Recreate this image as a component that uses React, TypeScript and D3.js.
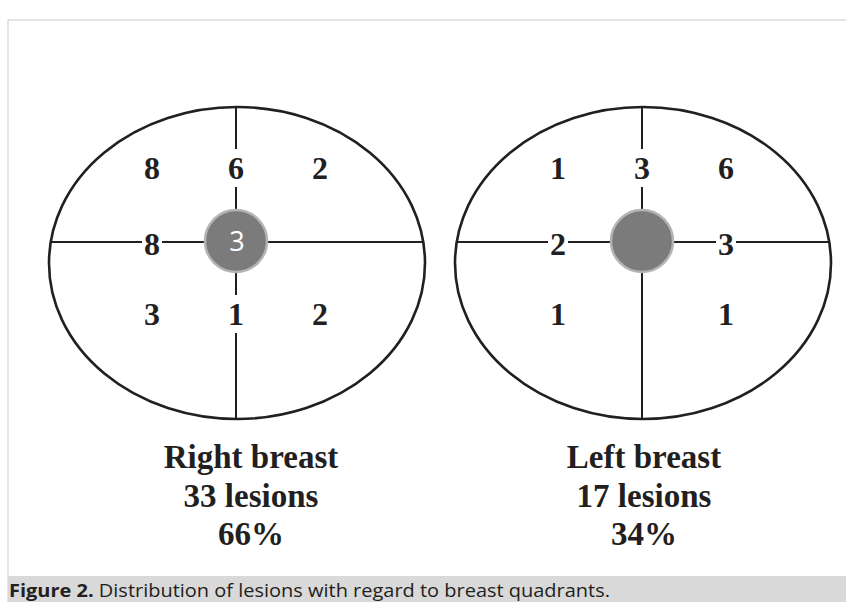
import React from "react";
import * as d3 from "d3";

// ---- data ----
const breasts = ["Right breast", "Left breast"];
const lesionCounts = [33, 17];
const percentages = ["66%", "34%"];
// slots around the quadrant cross
const slotNames = ["upperOuterLeft", "upperAxis", "upperOuterRight", "leftAxis", "rightAxis", "lowerOuterLeft", "lowerAxis", "lowerOuterRight"];
const rightBreastCounts = [8, 6, 2, 8, null, 3, 1, 2];
const leftBreastCounts = [1, 3, 6, 2, 3, 1, null, 1];
const centerCounts = [3, null];
const caption = "Distribution of lesions with regard to breast quadrants.";

const W = 846;
const H = 602;

const slotCol: Record<string, string> = {
  upperOuterLeft: "L", upperAxis: "C", upperOuterRight: "R",
  leftAxis: "L", rightAxis: "R",
  lowerOuterLeft: "L", lowerAxis: "C", lowerOuterRight: "R",
};
const slotRow: Record<string, string> = {
  upperOuterLeft: "U", upperAxis: "U", upperOuterRight: "U",
  leftAxis: "M", rightAxis: "M",
  lowerOuterLeft: "D", lowerAxis: "D", lowerOuterRight: "D",
};
const onLine = (s: string) => slotCol[s] === "C" || slotRow[s] === "M";

export default function App() {
  const cxScale = d3.scalePoint<string>().domain(breasts).range([236, 642]);
  const labelScale = d3.scalePoint<string>().domain(breasts).range([251, 644]);
  const cy = 242; // cross centre
  const ecy = 263; // ellipse centre
  const rx = 188;
  const ry = 156;
  const colScale = d3.scalePoint<string>().domain(["L", "C", "R"]).range([-84, 84]);
  const rowScale = d3.scalePoint<string>().domain(["U", "M", "D"]).range([-63, 83]);
  const countsByBreast = [rightBreastCounts, leftBreastCounts];
  const digitFont = "'Liberation Serif', 'Times New Roman', serif";
  const halfW = rx * Math.sqrt(1 - ((cy - ecy) / ry) ** 2);

  return (
    <div style={{ position: "fixed", left: 0, top: 0, width: W, height: H, background: "#fff" }}>
      <svg width={W} height={H} viewBox={`0 0 ${W} ${H}`} style={{ display: "block" }}>
        <rect x={0} y={0} width={W} height={H} fill="#fff" />
        <rect x={8} y={20} width={W} height={H} fill="none" stroke="#dcdcdc" strokeWidth={1.5} />
        {breasts.map((b, i) => {
          const cx = cxScale(b)!;
          const counts = countsByBreast[i];
          const lx = labelScale(b)!;
          return (
            <g key={b}>
              <ellipse cx={cx + 1} cy={ecy} rx={rx} ry={ry} fill="#fff" stroke="#231f20" strokeWidth={2.6} />
              <line x1={cx} x2={cx} y1={ecy - ry} y2={ecy + ry} stroke="#231f20" strokeWidth={2} />
              <line x1={cx + 1 - halfW} x2={cx + 1 + halfW} y1={cy} y2={cy} stroke="#231f20" strokeWidth={2} />
              {slotNames.map((s, j) => {
                const v = counts[j];
                if (v == null) return null;
                const x = cx + (slotCol[s] === "C" ? 0 : colScale(slotCol[s])!);
                const y = cy + (slotRow[s] === "M" ? 13 : rowScale(slotRow[s])!);
                return (
                  <g key={s}>
                    {onLine(s) && (
                      <rect x={x - 10} y={y - 30} width={20} height={38} fill="#fff" />
                    )}
                    <text x={x} y={y} textAnchor="middle" fontFamily={digitFont} fontWeight="bold" fontSize={32} fill="#231f20">
                      {v}
                    </text>
                  </g>
                );
              })}
              <circle cx={cx} cy={cy - 1} r={31} fill="#7b7b7b" stroke="#b4b4b4" strokeWidth={2.5} />
              {centerCounts[i] != null && (
                <text x={cx + 1} y={cy + 9} textAnchor="middle" fontFamily="'Open Sans', sans-serif" fontSize={27} fill="#fff">
                  {centerCounts[i]}
                </text>
              )}
              <text textAnchor="middle" fontFamily={digitFont} fontWeight="bold" fontSize={33} fill="#231f20">
                <tspan x={lx} y={468}>{b}</tspan>
                <tspan x={lx} y={506.5}>{`${lesionCounts[i]} lesions`}</tspan>
                <tspan x={lx} y={545}>{percentages[i]}</tspan>
              </text>
            </g>
          );
        })}
        <rect x={8} y={576} width={W} height={H - 576} fill="#d9d9d9" />
        <text x={9} y={597} fontFamily="'Open Sans', sans-serif" fontSize={18} fill="#231f20" textLength={601} lengthAdjust="spacingAndGlyphs">
          <tspan fontWeight="bold">Figure 2.</tspan>
          <tspan> {caption}</tspan>
        </text>
      </svg>
    </div>
  );
}
